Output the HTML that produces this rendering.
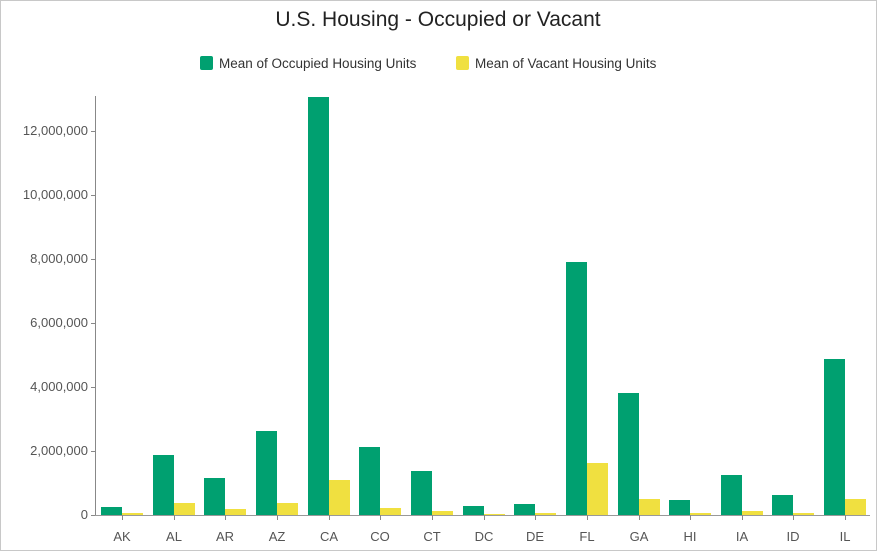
<!DOCTYPE html>
<html><head><style>body{margin:0;background:#fff}svg{display:block}</style></head><body>
<svg width="877" height="551" xmlns="http://www.w3.org/2000/svg" font-family="Liberation Sans, sans-serif">
<rect x="0.5" y="0.5" width="876" height="550" fill="#fff" stroke="#c8c8c8"/>
<text x="438" y="26" text-anchor="middle" font-size="21" fill="#222">U.S. Housing - Occupied or Vacant</text>
<rect x="200" y="56" width="13" height="14" rx="2" fill="#00a070"/>
<text x="219" y="68" font-size="13.5" fill="#333">Mean of Occupied Housing Units</text>
<rect x="456" y="56" width="13" height="14" rx="2" fill="#f0e040"/>
<text x="475" y="68" font-size="13.5" fill="#333">Mean of Vacant Housing Units</text>
<g font-size="13" fill="#555" text-anchor="end">
<text x="88" y="519">0</text>
<text x="88" y="455">2,000,000</text>
<text x="88" y="391">4,000,000</text>
<text x="88" y="327">6,000,000</text>
<text x="88" y="263">8,000,000</text>
<text x="88" y="199">10,000,000</text>
<text x="88" y="135">12,000,000</text>
</g>
<g stroke="#888">
<line x1="95.5" y1="96" x2="95.5" y2="515"/>
<line x1="91" y1="515.5" x2="95" y2="515.5"/><line x1="91" y1="451.5" x2="95" y2="451.5"/><line x1="91" y1="387.5" x2="95" y2="387.5"/><line x1="91" y1="323.5" x2="95" y2="323.5"/><line x1="91" y1="259.5" x2="95" y2="259.5"/><line x1="91" y1="195.5" x2="95" y2="195.5"/><line x1="91" y1="131.5" x2="95" y2="131.5"/>
</g>
<g fill="#00a070">
<rect x="101" y="507" width="21" height="8"/>
<rect x="153" y="455" width="21" height="60"/>
<rect x="204" y="478" width="21" height="37"/>
<rect x="256" y="431" width="21" height="84"/>
<rect x="308" y="97" width="21" height="418"/>
<rect x="359" y="447" width="21" height="68"/>
<rect x="411" y="471" width="21" height="44"/>
<rect x="463" y="506" width="21" height="9"/>
<rect x="514" y="504" width="21" height="11"/>
<rect x="566" y="262" width="21" height="253"/>
<rect x="618" y="393" width="21" height="122"/>
<rect x="669" y="500" width="21" height="15"/>
<rect x="721" y="475" width="21" height="40"/>
<rect x="772" y="495" width="21" height="20"/>
<rect x="824" y="359" width="21" height="156"/>
</g>
<g fill="#f0e040">
<rect x="122" y="513" width="21" height="2"/>
<rect x="174" y="503" width="21" height="12"/>
<rect x="225" y="509" width="21" height="6"/>
<rect x="277" y="503" width="21" height="12"/>
<rect x="329" y="480" width="21" height="35"/>
<rect x="380" y="508" width="21" height="7"/>
<rect x="432" y="511" width="21" height="4"/>
<rect x="484" y="514" width="21" height="1"/>
<rect x="535" y="513" width="21" height="2"/>
<rect x="587" y="463" width="21" height="52"/>
<rect x="639" y="499" width="21" height="16"/>
<rect x="690" y="513" width="21" height="2"/>
<rect x="742" y="511" width="21" height="4"/>
<rect x="793" y="513" width="21" height="2"/>
<rect x="845" y="499" width="21" height="16"/>
</g>
<line x1="95" y1="515.5" x2="870" y2="515.5" stroke="#999"/>
<g stroke="#888">
<line x1="122.5" y1="515" x2="122.5" y2="520"/><line x1="174.5" y1="515" x2="174.5" y2="520"/><line x1="225.5" y1="515" x2="225.5" y2="520"/><line x1="277.5" y1="515" x2="277.5" y2="520"/><line x1="329.5" y1="515" x2="329.5" y2="520"/><line x1="380.5" y1="515" x2="380.5" y2="520"/><line x1="432.5" y1="515" x2="432.5" y2="520"/><line x1="484.5" y1="515" x2="484.5" y2="520"/><line x1="535.5" y1="515" x2="535.5" y2="520"/><line x1="587.5" y1="515" x2="587.5" y2="520"/><line x1="639.5" y1="515" x2="639.5" y2="520"/><line x1="690.5" y1="515" x2="690.5" y2="520"/><line x1="742.5" y1="515" x2="742.5" y2="520"/><line x1="793.5" y1="515" x2="793.5" y2="520"/><line x1="845.5" y1="515" x2="845.5" y2="520"/>
</g>
<g font-size="13" fill="#555" text-anchor="middle">
<text x="122" y="541">AK</text><text x="174" y="541">AL</text><text x="225" y="541">AR</text><text x="277" y="541">AZ</text><text x="329" y="541">CA</text><text x="380" y="541">CO</text><text x="432" y="541">CT</text><text x="484" y="541">DC</text><text x="535" y="541">DE</text><text x="587" y="541">FL</text><text x="639" y="541">GA</text><text x="690" y="541">HI</text><text x="742" y="541">IA</text><text x="793" y="541">ID</text><text x="845" y="541">IL</text>
</g>
</svg>
</body></html>
